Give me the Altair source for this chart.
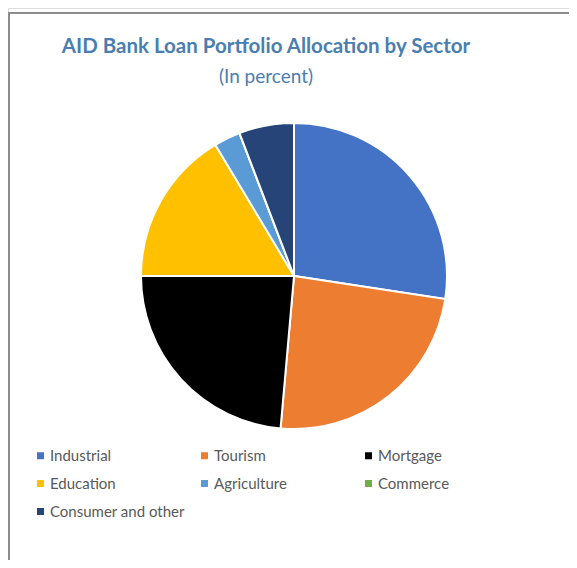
import altair as alt
import pandas as pd

sectors = ["Industrial", "Tourism", "Mortgage", "Education", "Agriculture", "Commerce", "Consumer and other"]
shares = [27.4, 24.0, 23.6, 16.4, 2.8, 0.0, 5.8]
colors = ["#4472C4", "#ED7D31", "#000000", "#FFC000", "#5B9BD5", "#70AD47", "#264478"]
title_text = "AID Bank Loan Portfolio Allocation by Sector"
subtitle_text = "(In percent)"

df = pd.DataFrame({"sector": sectors, "share": shares, "order": list(range(len(sectors)))})

pie = alt.Chart(df).mark_arc(stroke="white", strokeWidth=2, radius=153).encode(
    theta=alt.Theta("share:Q", stack=True),
    order=alt.Order("order:Q"),
    color=alt.Color(
        "sector:N",
        scale=alt.Scale(domain=sectors, range=colors),
        sort=None,
        legend=alt.Legend(
            title=None,
            orient="none",
            direction="horizontal",
            legendX=25,
            legendY=440,
            columns=3,
            gridAlign="all",
            columnPadding=12,
            rowPadding=12,
            symbolType="square",
            symbolSize=49,
            symbolStrokeWidth=0,
            symbolOffset=0,
            labelFont="Lato",
            labelFontSize=15,
            labelColor="#595959",
            labelOffset=2,
            labelLimit=300,
        ),
    ),
    x=alt.value(286),
    y=alt.value(268),
)

tdf = pd.DataFrame({"t": [title_text]})
sdf = pd.DataFrame({"t": [subtitle_text]})

title = alt.Chart(tdf).mark_text(
    font="Lato", fontSize=20.5, fontWeight="bold", color="#4A7EB0", baseline="alphabetic", align="center"
).encode(text="t:N", x=alt.value(258), y=alt.value(45))

subtitle = alt.Chart(sdf).mark_text(
    font="Lato", fontSize=19, color="#4A7EB0", baseline="alphabetic", align="center"
).encode(text="t:N", x=alt.value(258), y=alt.value(75))

bdf = pd.DataFrame({"k": [1]})
top_border = alt.Chart(bdf).mark_rule(color="#8C8C8C", strokeWidth=2).encode(
    x=alt.value(0), x2=alt.value(561), y=alt.value(5)
)
left_border = alt.Chart(bdf).mark_rule(color="#8C8C8C", strokeWidth=2).encode(
    x=alt.value(1), y=alt.value(5), y2=alt.value(552)
)

chart = alt.layer(top_border, left_border, pie, title, subtitle).properties(
    width=561, height=552, padding=0,
    autosize=alt.AutoSizeParams(type="none"),
).configure_view(stroke=None).configure(background="white")

chart.save("out.html", embed_options={"renderer": "svg", "actions": False})
